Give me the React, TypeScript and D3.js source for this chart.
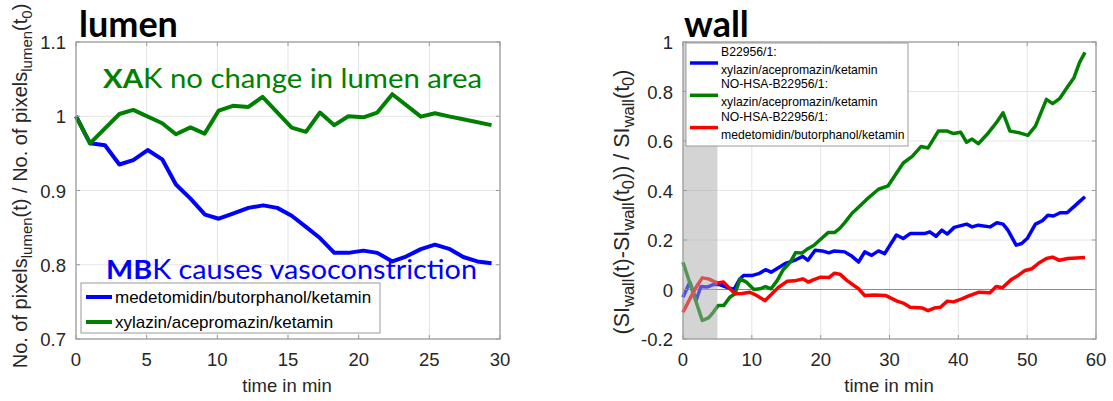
import React from 'react';
import * as d3 from 'd3';

// ---- lumen panel data (time in min, relative lumen area)
const lumenTicksX = [0, 5, 10, 15, 20, 25, 30];
const lumenTicksY = [0.7, 0.8, 0.9, 1, 1.1];

const mbkTime = [0, 1, 2.05, 3.07, 4.05, 5.07, 6.1, 7.07, 8.1, 9.13, 10.1, 11.1, 12.2, 13.25, 14.24, 15.26, 16.27, 17.26, 18.28, 19.27, 20.33, 21.32, 22.38, 23.35, 24.4, 25.4, 26.46, 27.4, 28.4, 29.4];
const mbkLumen = [1, 0.9635, 0.961, 0.935, 0.941, 0.9545, 0.942, 0.908, 0.889, 0.8676, 0.862, 0.869, 0.8766, 0.88, 0.8766, 0.866, 0.851, 0.836, 0.816, 0.816, 0.819, 0.816, 0.8045, 0.811, 0.821, 0.827, 0.821, 0.8104, 0.8045, 0.802];

const xakTime = [0, 0.99, 3.07, 4.05, 6.1, 7.07, 8.1, 9.1, 10.1, 11.1, 12.2, 13.2, 15.26, 16.27, 17.26, 18.28, 19.27, 20.33, 21.32, 22.38, 24.4, 25.4, 26.46, 27.4, 29.4];
const xakLumen = [1, 0.9635, 1.003, 1.0085, 0.9905, 0.9757, 0.985, 0.9766, 1.0077, 1.014, 1.0126, 1.026, 0.9847, 0.979, 1.005, 0.988, 1.0, 0.9986, 1.005, 1.0297, 0.9995, 1.004, 0.9995, 0.996, 0.988];

const lumenNames = ['medetomidin/butorphanol/ketamin', 'xylazin/acepromazin/ketamin'];

// ---- wall panel data (time in min, relative wall signal)
const wallTicksX = [0, 10, 20, 30, 40, 50, 60];
const wallTicksY = [-0.2, 0, 0.2, 0.4, 0.6, 0.8, 1];
const injectionEnd = 5;

const b22Time = [0, 1, 1.9, 2.6, 3.5, 4.4, 5.3, 6, 6.8, 7.4, 8.2, 8.8, 10.1, 11, 12, 12.8, 14.8, 16.46, 17.4, 18.15, 19.2, 20.2, 21.2, 22, 23.5, 24.56, 25.5, 26.4, 27.4, 28.4, 29.3, 31, 32, 33, 35.1, 35.85, 36.77, 37.6, 38.4, 39.4, 41.2, 42, 42.9, 44.6, 45.6, 46.5, 47.2, 48.4, 49.2, 50, 51.2, 52.2, 53, 53.8, 54.8, 55.8, 56.8, 57.6, 58.4];
const b22Wall = [-0.031, 0.03, -0.044, 0.012, 0.01, 0.02, 0.02, 0.013, 0.005, 0, 0.04, 0.057, 0.057, 0.064, 0.08, 0.07, 0.104, 0.121, 0.134, 0.118, 0.159, 0.156, 0.148, 0.156, 0.152, 0.134, 0.111, 0.152, 0.138, 0.156, 0.145, 0.22, 0.206, 0.226, 0.226, 0.233, 0.215, 0.24, 0.224, 0.251, 0.264, 0.253, 0.26, 0.253, 0.27, 0.264, 0.24, 0.179, 0.186, 0.206, 0.264, 0.278, 0.3, 0.297, 0.31, 0.31, 0.335, 0.355, 0.375];

const noHsaXakTime = [0, 2.8, 3.7, 4.4, 5.1, 5.9, 6.8, 7.55, 8.3, 9.2, 10.3, 11.2, 12, 12.8, 13.7, 14.56, 15.6, 16.36, 17.28, 18.15, 19.03, 19.95, 21.08, 22, 22.77, 23.5, 24.56, 25.5, 26.6, 28.4, 29.8, 32, 33.3, 34.6, 35.6, 37.1, 38.4, 39.3, 40.35, 41.2, 42, 42.9, 44.15, 45.5, 46.5, 47.5, 48.9, 50.1, 51.2, 52.8, 53.7, 54.7, 55.85, 56.8, 57.6, 58.4];
const noHsaXakWall = [0.11, -0.125, -0.115, -0.092, -0.065, -0.065, -0.031, -0.017, 0.043, 0.03, 0, 0.003, 0.012, 0.003, 0.037, 0.08, 0.111, 0.149, 0.147, 0.165, 0.179, 0.202, 0.23, 0.23, 0.247, 0.27, 0.308, 0.332, 0.362, 0.405, 0.419, 0.511, 0.538, 0.578, 0.572, 0.64, 0.64, 0.63, 0.635, 0.595, 0.608, 0.589, 0.626, 0.673, 0.714, 0.64, 0.633, 0.623, 0.66, 0.768, 0.751, 0.771, 0.818, 0.856, 0.917, 0.958];

const noHsaMbkTime = [0, 1, 1.9, 2.8, 3.7, 4.4, 5.1, 5.9, 6.6, 7.55, 8.6, 9.7, 10.7, 11.9, 13, 13.8, 15.1, 16.2, 17.4, 18.2, 19, 20, 21.2, 22, 22.8, 23.8, 25.5, 26.4, 27.8, 29.4, 31.1, 32, 33, 34.8, 35.6, 36.5, 37.4, 38.4, 39.3, 40.5, 41.6, 43, 44.6, 45.5, 46.4, 47.65, 48.7, 49.7, 50.7, 51.7, 52.8, 53.7, 54.7, 55.9, 58.4];
const noHsaMbkWall = [-0.092, -0.038, 0.009, 0.047, 0.043, 0.034, 0.026, 0.03, 0.009, -0.017, -0.016, -0.011, -0.024, -0.045, -0.015, 0.007, 0.033, 0.035, 0.043, 0.03, 0.04, 0.05, 0.048, 0.066, 0.062, 0.037, 0.003, -0.024, -0.022, -0.024, -0.047, -0.055, -0.072, -0.075, -0.085, -0.075, -0.072, -0.047, -0.05, -0.038, -0.025, -0.011, -0.013, 0.012, 0.007, 0.039, 0.057, 0.077, 0.084, 0.107, 0.125, 0.131, 0.118, 0.125, 0.129];

const wallNames = [
  ['B22956/1:', 'xylazin/acepromazin/ketamin'],
  ['NO-HSA-B22956/1:', 'xylazin/acepromazin/ketamin'],
  ['NO-HSA-B22956/1:', 'medetomidin/butorphanol/ketamin'],
];

const BLUE = '#0000ff';
const GREEN = '#008000';
const RED = '#ff0000';
const FONT = '"Liberation Sans", Arial, sans-serif';
const CAL = 'Lato, "Open Sans", sans-serif';
const AXIS = '#9a9a9a';
const GRID = '#e4e4e4';
const TXT = '#262626';

const zip = (t: number[], v: number[]) => t.map((d, i) => [d, v[i]] as [number, number]);

function Grid({ x, y, xTicks, yTicks }: any) {
  const [x0, x1] = x.range();
  const [yb, yt] = y.range();
  return (
    <g>
      {xTicks.map((t: number) => (
        <line key={'gx' + t} x1={x(t)} x2={x(t)} y1={yt} y2={yb} stroke={GRID} />
      ))}
      {yTicks.map((t: number) => (
        <line key={'gy' + t} x1={x0} x2={x1} y1={y(t)} y2={y(t)} stroke={GRID} />
      ))}
    </g>
  );
}

function Box({ x, y, xTicks, yTicks }: any) {
  const [x0, x1] = x.range();
  const [yb, yt] = y.range();
  const tl = 4;
  return (
    <g fontFamily={FONT} fontSize={18.5} fill={TXT}>
      <rect x={x0} y={yt} width={x1 - x0} height={yb - yt} fill="none" stroke={AXIS} strokeWidth={1.2} />
      {xTicks.map((t: number) => (
        <g key={'tx' + t}>
          <line x1={x(t)} x2={x(t)} y1={yb} y2={yb - tl} stroke={AXIS} />
          <line x1={x(t)} x2={x(t)} y1={yt} y2={yt + tl} stroke={AXIS} />
          <text x={x(t)} y={yb + 27} textAnchor="middle">{String(t)}</text>
        </g>
      ))}
      {yTicks.map((t: number) => (
        <g key={'ty' + t}>
          <line x1={x0} x2={x0 + tl} y1={y(t)} y2={y(t)} stroke={AXIS} />
          <line x1={x1} x2={x1 - tl} y1={y(t)} y2={y(t)} stroke={AXIS} />
          <text x={x0 - 10} y={y(t) + 7} textAnchor="end">{String(t)}</text>
        </g>
      ))}
    </g>
  );
}

export default function App() {
  // lumen axes
  const lx = d3.scaleLinear().domain([0, 30]).range([76, 500]);
  const ly = d3.scaleLinear().domain([0.7, 1.1]).range([339, 42]);
  // wall axes
  const wx = d3.scaleLinear().domain([0, 60]).range([683, 1096]);
  const wy = d3.scaleLinear().domain([-0.2, 1]).range([339, 42]);

  const lline = d3.line<[number, number]>().x((d) => lx(d[0])).y((d) => ly(d[1]));
  const wline = d3.line<[number, number]>().x((d) => wx(d[0])).y((d) => wy(d[1]));

  const lumenSeries = [
    { data: zip(mbkTime, mbkLumen), color: BLUE },
    { data: zip(xakTime, xakLumen), color: GREEN },
  ];
  const wallSeries = [
    { data: zip(b22Time, b22Wall), color: BLUE },
    { data: zip(noHsaXakTime, noHsaXakWall), color: GREEN },
    { data: zip(noHsaMbkTime, noHsaMbkWall), color: RED },
  ];

  const lab = 20;
  const sub = 15;
  const wlab = 21.5;
  const wsub = 16.5;

  return (
    <div style={{ position: 'absolute', left: 0, top: 0 }}>
      <svg width={1113} height={401} style={{ display: 'block', background: '#fff' }}>
        {/* ---------- lumen ---------- */}
        <text x={79} y={37} fontFamily={CAL} fontWeight="bold" fontSize={36} fill="#000">lumen</text>
        <Grid x={lx} y={ly} xTicks={lumenTicksX} yTicks={lumenTicksY} />
        {lumenSeries.map((s, i) => (
          <path key={i} d={lline(s.data) || ''} fill="none" stroke={s.color} strokeWidth={4} strokeLinejoin="round" />
        ))}
        <Box x={lx} y={ly} xTicks={lumenTicksX} yTicks={lumenTicksY} />

        <text x={103} y={88} fontFamily={CAL} fontSize={27} fill={GREEN} textLength={379} lengthAdjust="spacingAndGlyphs">
          <tspan fontWeight="bold">XA</tspan>
          <tspan>K no change in lumen area</tspan>
        </text>
        <text x={106} y={279} fontFamily={CAL} fontSize={27} fill={BLUE} textLength={371} lengthAdjust="spacingAndGlyphs">
          <tspan fontWeight="bold">MB</tspan>
          <tspan>K causes vasoconstriction</tspan>
        </text>

        <g fontFamily={FONT} fontSize={17} fill="#000">
          <rect x={81} y={283} width={299} height={50} fill="#fff" stroke={AXIS} />
          {lumenNames.map((n, i) => (
            <g key={n}>
              <line x1={86} x2={112} y1={297 + i * 25} y2={297 + i * 25} stroke={lumenSeries[i].color} strokeWidth={4} />
              <text x={115} y={303 + i * 25}>{n}</text>
            </g>
          ))}
        </g>

        <text x={287} y={392} textAnchor="middle" fontFamily={FONT} fontSize={18.5} fill={TXT}>time in min</text>
        <text transform="translate(27,186) rotate(-90)" textAnchor="middle" fontFamily={FONT} fontSize={lab} fill={TXT}>
          No. of pixels<tspan fontSize={sub} dy={5}>lumen</tspan>
          <tspan dy={-5}>(t) / No. of pixels</tspan>
          <tspan fontSize={sub} dy={5}>lumen</tspan>
          <tspan dy={-5}>(t</tspan>
          <tspan fontSize={sub} dy={5}>0</tspan>
          <tspan dy={-5}>)</tspan>
        </text>

        {/* ---------- wall ---------- */}
        <text x={684} y={37} fontFamily={CAL} fontWeight="bold" fontSize={36} fill="#000">wall</text>
        <Grid x={wx} y={wy} xTicks={wallTicksX} yTicks={wallTicksY} />
        <line x1={wx(0)} x2={wx(60)} y1={wy(0)} y2={wy(0)} stroke="#8c8c8c" strokeWidth={1.2} />
        {wallSeries.map((s, i) => (
          <path key={i} d={wline(s.data) || ''} fill="none" stroke={s.color} strokeWidth={3.5} strokeLinejoin="round" />
        ))}
        <rect x={wx(0)} y={wy(1)} width={wx(injectionEnd) - wx(0)} height={wy(-0.2) - wy(1)} fill="#a9a9a9" fillOpacity={0.5} />
        <Box x={wx} y={wy} xTicks={wallTicksX} yTicks={wallTicksY} />

        <g fontFamily={FONT} fontSize={12.2} fill="#000">
          <rect x={686} y={43} width={222} height={103} fill="#fff" stroke={AXIS} />
          {wallNames.map((n, i) => (
            <g key={i}>
              <line x1={690} x2={718} y1={63 + i * 32.3} y2={63 + i * 32.3} stroke={wallSeries[i].color} strokeWidth={3.5} />
              <text x={721} y={56 + i * 32.3}>{n[0]}</text>
              <text x={721} y={74 + i * 32.3}>{n[1]}</text>
            </g>
          ))}
        </g>

        <text x={889} y={392} textAnchor="middle" fontFamily={FONT} fontSize={18.5} fill={TXT}>time in min</text>
        <text transform="translate(629,202) rotate(-90)" textAnchor="middle" fontFamily={FONT} fontSize={wlab} fill={TXT}>
          (SI<tspan fontSize={wsub} dy={5}>wall</tspan>
          <tspan dy={-5}>(t)-SI</tspan>
          <tspan fontSize={wsub} dy={5}>wall</tspan>
          <tspan dy={-5}>(t</tspan>
          <tspan fontSize={wsub} dy={5}>0</tspan>
          <tspan dy={-5}>)) / SI</tspan>
          <tspan fontSize={wsub} dy={5}>wall</tspan>
          <tspan dy={-5}>(t</tspan>
          <tspan fontSize={wsub} dy={5}>0</tspan>
          <tspan dy={-5}>)</tspan>
        </text>
      </svg>
    </div>
  );
}
